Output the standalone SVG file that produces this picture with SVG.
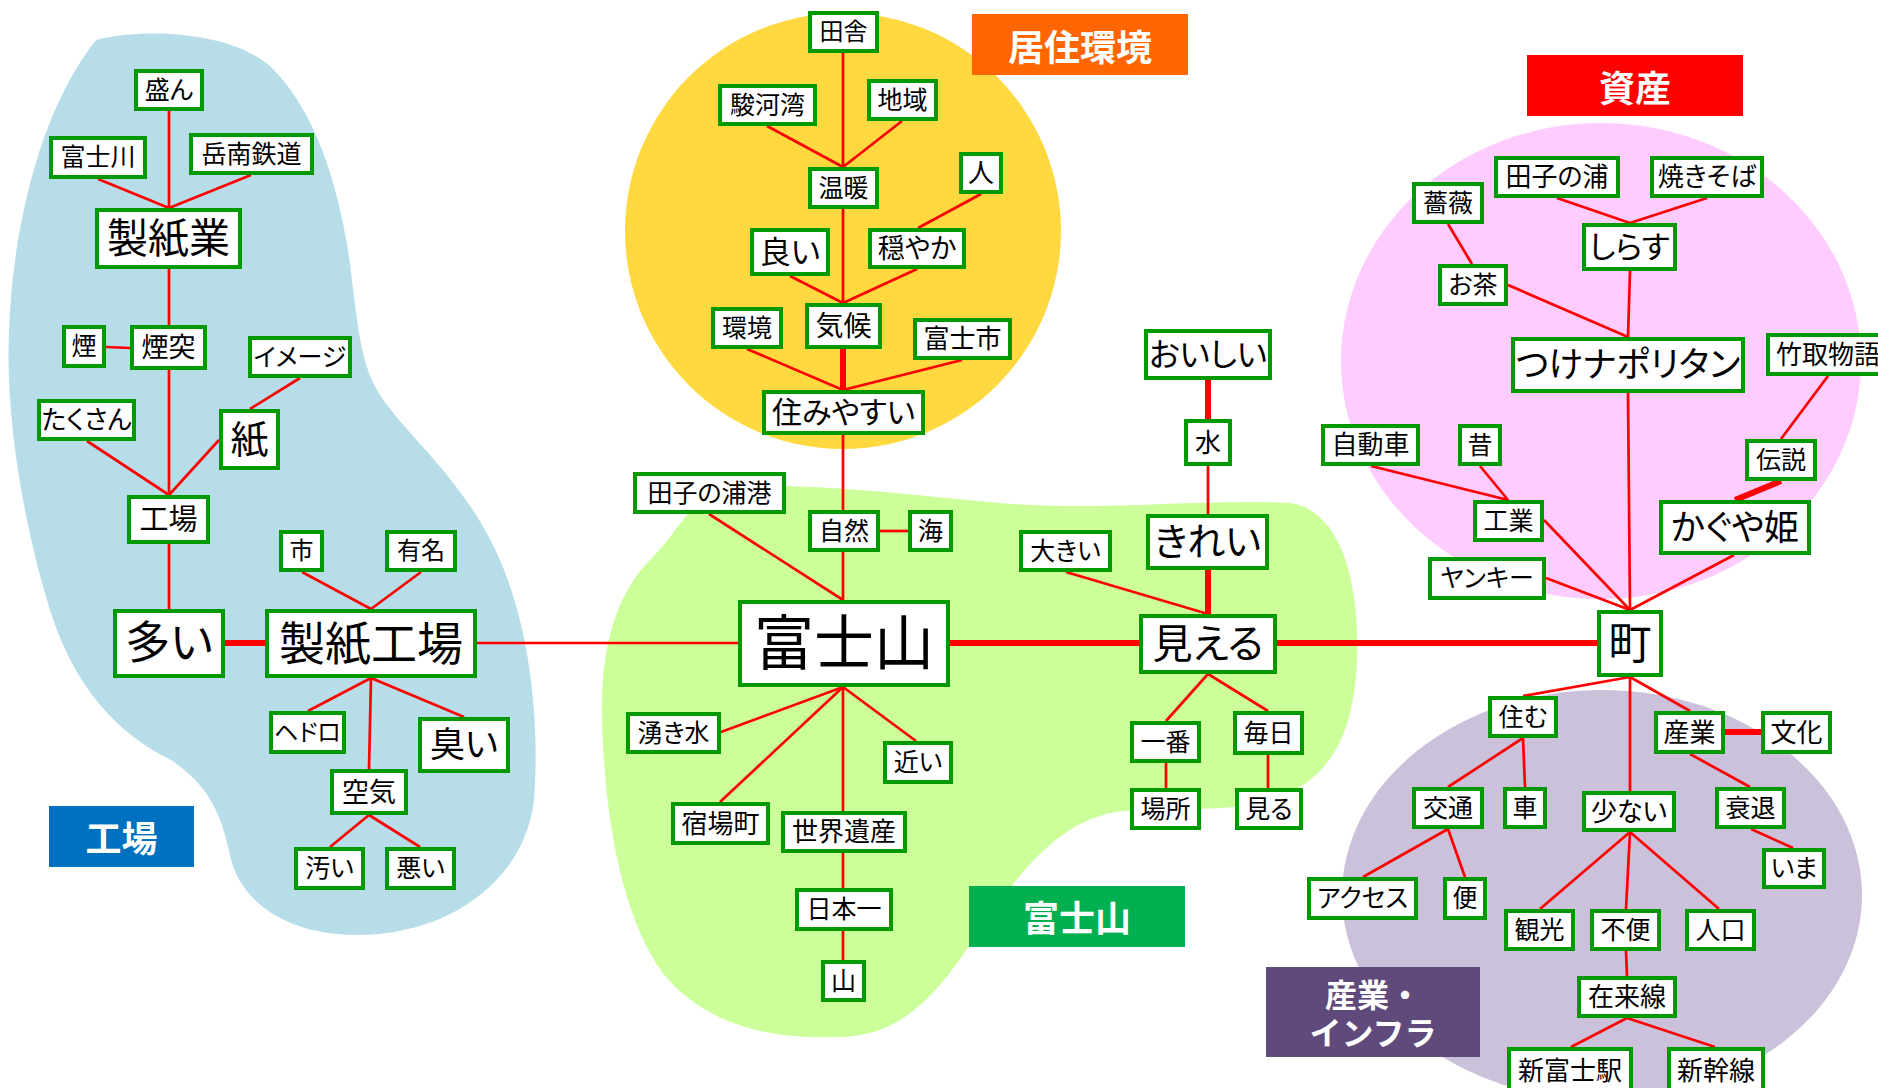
<svg xmlns="http://www.w3.org/2000/svg" width="1878" height="1088" viewBox="0 0 1878 1088">
<style>
.n rect{fill:#fff;stroke:#009900;stroke-width:4}
.n text{font-family:"Noto Sans CJK JP","Noto Sans",sans-serif;text-anchor:middle;fill:#000;font-feature-settings:"palt"}
.e line{stroke:#ff0000;stroke-width:2.7;stroke-linecap:butt}
.e line.t{stroke-width:6}
.lb text{font-family:"Noto Sans CJK JP","Noto Sans",sans-serif;font-weight:700;fill:#fff;text-anchor:middle;font-size:36px}
</style>
<rect width="1878" height="1088" fill="#fff"/>
<g id="areas">
<path id="area-factory" fill="#B7DEE8" d="M96,40 C140,28 230,30 271,67 C310,105 335,170 348,250 C358,320 358,360 380,395 C410,440 465,480 500,560 C530,630 540,720 534,800 C525,880 450,935 357,935 C290,935 245,905 232,863 C222,820 215,790 171,760 C120,735 75,690 50,610 C25,530 5,420 9,333 C12,230 40,110 96,40 Z"/>
<circle id="area-living" cx="843" cy="231" r="218" fill="#FFD93F"/>
<path id="area-fuji" fill="#CCFF99" d="M720,490 C790,480 880,492 1000,503 C1100,512 1200,498 1290,503 C1340,510 1360,580 1357,660 C1354,735 1330,782 1270,800 C1220,815 1160,805 1115,812 C1060,822 1020,870 980,930 C940,990 905,1037 838,1037 C760,1040 700,1020 662,972 C625,920 605,830 602,720 C600,640 620,590 650,560 C680,530 690,500 720,490 Z"/>
<ellipse id="area-asset" cx="1601" cy="361" rx="260" ry="238" fill="#FFCCFF"/>
<ellipse id="area-industry" cx="1602" cy="895" rx="260" ry="205" fill="#CCC1DA"/>
</g>
<g id="connectors" class="e">
<line x1="169" y1="111" x2="169" y2="208"/>
<line x1="98" y1="179" x2="169" y2="208"/>
<line x1="251" y1="175" x2="169" y2="208"/>
<line x1="169" y1="269" x2="169" y2="325"/>
<line x1="106" y1="347" x2="130" y2="348"/>
<line x1="169" y1="370" x2="169" y2="495"/>
<line x1="87" y1="441" x2="169" y2="495"/>
<line x1="219" y1="440" x2="169" y2="495"/>
<line x1="300" y1="378" x2="250" y2="409"/>
<line x1="169" y1="544" x2="169" y2="609"/>
<line class="t" x1="225" y1="643" x2="265" y2="643"/>
<line x1="302" y1="572" x2="371" y2="609"/>
<line x1="421" y1="572" x2="371" y2="609"/>
<line x1="371" y1="678" x2="308" y2="711"/>
<line x1="371" y1="678" x2="464" y2="717"/>
<line x1="371" y1="678" x2="369" y2="769"/>
<line x1="369" y1="815" x2="330" y2="847"/>
<line x1="369" y1="815" x2="420" y2="847"/>
<line x1="477" y1="643" x2="738" y2="643"/>
<line x1="843" y1="53" x2="843" y2="167"/>
<line x1="767" y1="126" x2="843" y2="167"/>
<line x1="902" y1="121" x2="843" y2="167"/>
<line x1="843" y1="209" x2="843" y2="303"/>
<line x1="790" y1="276" x2="843" y2="303"/>
<line x1="917" y1="269" x2="843" y2="303"/>
<line x1="981" y1="194" x2="918" y2="228"/>
<line class="t" x1="843" y1="349" x2="843" y2="390"/>
<line x1="747" y1="349" x2="843" y2="390"/>
<line x1="962" y1="360" x2="843" y2="390"/>
<line x1="843" y1="435" x2="843" y2="510"/>
<line x1="709" y1="514" x2="843" y2="600"/>
<line x1="843" y1="552" x2="843" y2="600"/>
<line x1="880" y1="531" x2="908" y2="531"/>
<line class="t" x1="950" y1="643" x2="1139" y2="643"/>
<line x1="1066" y1="572" x2="1208" y2="614"/>
<line class="t" x1="1208" y1="570" x2="1208" y2="614"/>
<line class="t" x1="1208" y1="380" x2="1208" y2="419"/>
<line x1="1208" y1="466" x2="1208" y2="514"/>
<line class="t" x1="1277" y1="643" x2="1597" y2="643"/>
<line x1="843" y1="687" x2="721" y2="732"/>
<line x1="843" y1="687" x2="720" y2="802"/>
<line x1="843" y1="687" x2="916" y2="741"/>
<line x1="843" y1="687" x2="843" y2="811"/>
<line x1="843" y1="853" x2="843" y2="888"/>
<line x1="843" y1="931" x2="843" y2="960"/>
<line x1="1208" y1="674" x2="1166" y2="721"/>
<line x1="1208" y1="674" x2="1268" y2="711"/>
<line x1="1166" y1="763" x2="1166" y2="788"/>
<line x1="1268" y1="755" x2="1268" y2="788"/>
<line x1="1557" y1="198" x2="1630" y2="223"/>
<line x1="1707" y1="198" x2="1630" y2="223"/>
<line x1="1448" y1="224" x2="1472" y2="264"/>
<line x1="1508" y1="285" x2="1628" y2="337"/>
<line x1="1630" y1="271" x2="1628" y2="337"/>
<line x1="1628" y1="393" x2="1630" y2="610"/>
<line x1="1828" y1="376" x2="1781" y2="439"/>
<line class="t" x1="1781" y1="481" x2="1735" y2="500"/>
<line x1="1371" y1="466" x2="1508" y2="500"/>
<line x1="1480" y1="466" x2="1508" y2="500"/>
<line x1="1544" y1="520" x2="1630" y2="610"/>
<line x1="1546" y1="578" x2="1630" y2="610"/>
<line x1="1734" y1="555" x2="1630" y2="610"/>
<line x1="1630" y1="677" x2="1523" y2="696"/>
<line x1="1630" y1="677" x2="1630" y2="791"/>
<line x1="1630" y1="677" x2="1690" y2="711"/>
<line class="t" x1="1725" y1="732" x2="1761" y2="732"/>
<line x1="1523" y1="738" x2="1448" y2="787"/>
<line x1="1523" y1="738" x2="1525" y2="787"/>
<line x1="1448" y1="829" x2="1363" y2="877"/>
<line x1="1448" y1="829" x2="1465" y2="877"/>
<line x1="1690" y1="754" x2="1750" y2="787"/>
<line x1="1751" y1="829" x2="1793" y2="848"/>
<line x1="1630" y1="832" x2="1540" y2="909"/>
<line x1="1630" y1="832" x2="1626" y2="909"/>
<line x1="1630" y1="832" x2="1719" y2="909"/>
<line x1="1626" y1="951" x2="1627" y2="976"/>
<line x1="1627" y1="1018" x2="1571" y2="1047"/>
<line x1="1627" y1="1018" x2="1715" y2="1047"/>
</g>
<g id="nodes" class="n">
<g id="n-sakan"><rect x="136" y="71" width="66" height="38"/><text x="169" y="98.8" font-size="25">盛ん</text></g>
<g id="n-fujikawa"><rect x="51" y="138" width="94" height="39"/><text x="98" y="166.3" font-size="25">富士川</text></g>
<g id="n-gakunan"><rect x="191" y="135" width="121" height="38"/><text x="251.5" y="162.8" font-size="25">岳南鉄道</text></g>
<g id="n-seishigyo"><rect x="97" y="210" width="143" height="57"/><text x="168.5" y="252.9" font-size="41">製紙業</text></g>
<g id="n-kemuri"><rect x="64" y="327" width="40" height="39"/><text x="84" y="355.3" font-size="25">煙</text></g>
<g id="n-entotsu"><rect x="132" y="327" width="73" height="41"/><text x="168.5" y="357" font-size="27">煙突</text></g>
<g id="n-image"><rect x="250" y="338" width="100" height="38"/><text x="300" y="365.8" font-size="25">イメージ</text></g>
<g id="n-takusan"><rect x="39" y="401" width="95" height="38"/><text x="86.5" y="429.1" font-size="26">たくさん</text></g>
<g id="n-kami"><rect x="221" y="411" width="57" height="57"/><text x="249.5" y="452.8" font-size="38">紙</text></g>
<g id="n-kojo"><rect x="129" y="497" width="79" height="45"/><text x="168.5" y="529.7" font-size="29">工場</text></g>
<g id="n-shi"><rect x="281" y="532" width="41" height="38"/><text x="301.5" y="559.4" font-size="24">市</text></g>
<g id="n-yumei"><rect x="387" y="532" width="68" height="38"/><text x="421" y="559.4" font-size="24">有名</text></g>
<g id="n-ooi"><rect x="115" y="611" width="108" height="65"/><text x="169" y="659.3" font-size="45">多い</text></g>
<g id="n-seishikojo"><rect x="267" y="611" width="208" height="65"/><text x="371" y="659.6" font-size="46">製紙工場</text></g>
<g id="n-hedoro"><rect x="271" y="713" width="73" height="39"/><text x="307.5" y="740.9" font-size="24">ヘドロ</text></g>
<g id="n-kusai"><rect x="420" y="719" width="88" height="52"/><text x="464" y="757.3" font-size="35">臭い</text></g>
<g id="n-kuki"><rect x="332" y="771" width="74" height="42"/><text x="369" y="801.5" font-size="27">空気</text></g>
<g id="n-kitanai"><rect x="296" y="849" width="67" height="39"/><text x="329.5" y="877.3" font-size="25">汚い</text></g>
<g id="n-warui"><rect x="387" y="849" width="67" height="39"/><text x="420.5" y="877.3" font-size="25">悪い</text></g>
<g id="n-inaka"><rect x="810" y="13" width="67" height="38"/><text x="843.5" y="40.4" font-size="24">田舎</text></g>
<g id="n-surugawan"><rect x="720" y="86" width="95" height="38"/><text x="767.5" y="113.8" font-size="25">駿河湾</text></g>
<g id="n-chiiki"><rect x="869" y="81" width="67" height="38"/><text x="902.5" y="108.8" font-size="25">地域</text></g>
<g id="n-ondan"><rect x="810" y="169" width="67" height="38"/><text x="843.5" y="196.8" font-size="25">温暖</text></g>
<g id="n-hito"><rect x="961" y="154" width="40" height="38"/><text x="981" y="182.1" font-size="26">人</text></g>
<g id="n-yoi"><rect x="752" y="230" width="76" height="44"/><text x="790" y="262.9" font-size="31">良い</text></g>
<g id="n-odayaka"><rect x="870" y="230" width="94" height="37"/><text x="917" y="258" font-size="27">穏やか</text></g>
<g id="n-kankyo"><rect x="713" y="309" width="68" height="38"/><text x="747" y="336.8" font-size="25">環境</text></g>
<g id="n-kiko"><rect x="807" y="305" width="73" height="42"/><text x="843.5" y="335.8" font-size="28">気候</text></g>
<g id="n-fujishi"><rect x="915" y="320" width="95" height="38"/><text x="962.5" y="348.1" font-size="26">富士市</text></g>
<g id="n-sumiyasui"><rect x="764" y="392" width="159" height="41"/><text x="843.5" y="423" font-size="30">住みやすい</text></g>
<g id="n-tagonouraport"><rect x="635" y="474" width="149" height="38"/><text x="709.5" y="501.8" font-size="25">田子の浦港</text></g>
<g id="n-shizen"><rect x="810" y="512" width="68" height="38"/><text x="844" y="539.8" font-size="25">自然</text></g>
<g id="n-umi"><rect x="910" y="512" width="41" height="38"/><text x="930.5" y="539.8" font-size="25">海</text></g>
<g id="n-fujisan"><rect x="740" y="602" width="208" height="83"/><text x="844" y="664.5" font-size="60">富士山</text></g>
<g id="n-wakimizu"><rect x="628" y="714" width="91" height="38"/><text x="673.5" y="741.8" font-size="25">湧き水</text></g>
<g id="n-chikai"><rect x="885" y="743" width="66" height="39"/><text x="918" y="771.3" font-size="25">近い</text></g>
<g id="n-shukuba"><rect x="673" y="804" width="95" height="39"/><text x="720.5" y="832.6" font-size="26">宿場町</text></g>
<g id="n-sekaiisan"><rect x="783" y="813" width="122" height="38"/><text x="844" y="841.1" font-size="26">世界遺産</text></g>
<g id="n-nihonichi"><rect x="797" y="890" width="94" height="39"/><text x="844" y="918.3" font-size="25">日本一</text></g>
<g id="n-yama"><rect x="823" y="962" width="41" height="38"/><text x="843.5" y="989.8" font-size="25">山</text></g>
<g id="n-ookii"><rect x="1021" y="532" width="89" height="38"/><text x="1065.5" y="559.8" font-size="25">大きい</text></g>
<g id="n-kirei"><rect x="1148" y="516" width="119" height="52"/><text x="1207.5" y="555.3" font-size="38">きれい</text></g>
<g id="n-mieru"><rect x="1141" y="616" width="134" height="56"/><text x="1208" y="658" font-size="40">見える</text></g>
<g id="n-oishii"><rect x="1146" y="331" width="124" height="47"/><text x="1208" y="365.7" font-size="32">おいしい</text></g>
<g id="n-mizu"><rect x="1186" y="421" width="44" height="43"/><text x="1208" y="451.6" font-size="26">水</text></g>
<g id="n-ichiban"><rect x="1132" y="723" width="67" height="38"/><text x="1165.5" y="750.8" font-size="25">一番</text></g>
<g id="n-mainichi"><rect x="1235" y="713" width="67" height="40"/><text x="1268.5" y="741.8" font-size="25">毎日</text></g>
<g id="n-basho"><rect x="1132" y="790" width="67" height="38"/><text x="1165.5" y="817.8" font-size="25">場所</text></g>
<g id="n-miru"><rect x="1237" y="790" width="64" height="38"/><text x="1269" y="817.8" font-size="25">見る</text></g>
<g id="n-tagonoura"><rect x="1496" y="158" width="122" height="38"/><text x="1557" y="186.1" font-size="26">田子の浦</text></g>
<g id="n-yakisoba"><rect x="1652" y="158" width="110" height="38"/><text x="1707" y="186.1" font-size="26">焼きそば</text></g>
<g id="n-bara"><rect x="1414" y="184" width="68" height="38"/><text x="1448" y="211.8" font-size="25">薔薇</text></g>
<g id="n-shirasu"><rect x="1584" y="225" width="91" height="44"/><text x="1629.5" y="257.9" font-size="31">しらす</text></g>
<g id="n-ocha"><rect x="1440" y="266" width="66" height="38"/><text x="1473" y="293.8" font-size="25">お茶</text></g>
<g id="n-tsukenapo"><rect x="1513" y="339" width="230" height="52"/><text x="1628" y="377.3" font-size="35">つけナポリタン</text></g>
<g id="n-taketori"><rect x="1768" y="335" width="122" height="39"/><text x="1776" y="363.6" font-size="26" style="text-anchor:start">竹取物語</text></g>
<g id="n-jidosha"><rect x="1323" y="426" width="95" height="38"/><text x="1370.5" y="454.1" font-size="26">自動車</text></g>
<g id="n-mukashi"><rect x="1460" y="426" width="40" height="38"/><text x="1480" y="453.8" font-size="25">昔</text></g>
<g id="n-densetsu"><rect x="1747" y="441" width="68" height="38"/><text x="1781" y="468.8" font-size="25">伝説</text></g>
<g id="n-kogyo"><rect x="1475" y="502" width="67" height="38"/><text x="1508.5" y="529.8" font-size="25">工業</text></g>
<g id="n-kaguya"><rect x="1661" y="502" width="148" height="51"/><text x="1735" y="539.8" font-size="35">かぐや姫</text></g>
<g id="n-yankee"><rect x="1430" y="559" width="114" height="39"/><text x="1487" y="587.3" font-size="25">ヤンキー</text></g>
<g id="n-machi"><rect x="1599" y="612" width="62" height="63"/><text x="1630" y="658.6" font-size="43">町</text></g>
<g id="n-sumu"><rect x="1490" y="698" width="66" height="38"/><text x="1523" y="725.8" font-size="25">住む</text></g>
<g id="n-sangyo"><rect x="1656" y="713" width="67" height="39"/><text x="1689.5" y="741.6" font-size="26">産業</text></g>
<g id="n-bunka"><rect x="1763" y="713" width="67" height="39"/><text x="1796.5" y="741.6" font-size="26">文化</text></g>
<g id="n-kotsu"><rect x="1414" y="789" width="68" height="38"/><text x="1448" y="816.8" font-size="25">交通</text></g>
<g id="n-kuruma"><rect x="1505" y="789" width="40" height="38"/><text x="1525" y="816.8" font-size="25">車</text></g>
<g id="n-sukunai"><rect x="1584" y="793" width="90" height="37"/><text x="1629" y="820.6" font-size="26">少ない</text></g>
<g id="n-suitai"><rect x="1717" y="789" width="67" height="38"/><text x="1750.5" y="816.8" font-size="25">衰退</text></g>
<g id="n-ima"><rect x="1764" y="850" width="60" height="37"/><text x="1794" y="877.3" font-size="25">いま</text></g>
<g id="n-access"><rect x="1309" y="879" width="107" height="39"/><text x="1362.5" y="907.3" font-size="25">アクセス</text></g>
<g id="n-ben"><rect x="1445" y="879" width="40" height="39"/><text x="1465" y="907.3" font-size="25">便</text></g>
<g id="n-kanko"><rect x="1506" y="911" width="67" height="38"/><text x="1539.5" y="938.8" font-size="25">観光</text></g>
<g id="n-fuben"><rect x="1592" y="911" width="67" height="38"/><text x="1625.5" y="938.8" font-size="25">不便</text></g>
<g id="n-jinko"><rect x="1687" y="911" width="67" height="38"/><text x="1720.5" y="938.8" font-size="25">人口</text></g>
<g id="n-zairaisen"><rect x="1579" y="978" width="96" height="38"/><text x="1627" y="1006.1" font-size="26">在来線</text></g>
<g id="n-shinfujieki"><rect x="1509" y="1049" width="122" height="41"/><text x="1570" y="1080" font-size="26">新富士駅</text></g>
<g id="n-shinkansen"><rect x="1669" y="1049" width="94" height="41"/><text x="1716" y="1080" font-size="26">新幹線</text></g>
</g>
<g id="labels" class="lb">
<g id="lb-factory"><rect x="49" y="806" width="145" height="61" fill="#0070C0"/><text x="121.5" y="851.6">工場</text></g>
<g id="lb-living"><rect x="972" y="14" width="216" height="61" fill="#FF6600"/><text x="1080" y="60.6">居住環境</text></g>
<g id="lb-asset"><rect x="1527" y="55" width="216" height="61" fill="#FF0000"/><text x="1635" y="101.6">資産</text></g>
<g id="lb-fuji"><rect x="969" y="886" width="216" height="61" fill="#00B050"/><text x="1077" y="931.6">富士山</text></g>
<g id="lb-industry"><rect x="1266" y="967" width="214" height="90" fill="#604A7B"/><text x="1373" y="1007" style="font-size:32px">産業・</text><text x="1373" y="1045" style="font-size:32px">インフラ</text></g>
</g>
</svg>
